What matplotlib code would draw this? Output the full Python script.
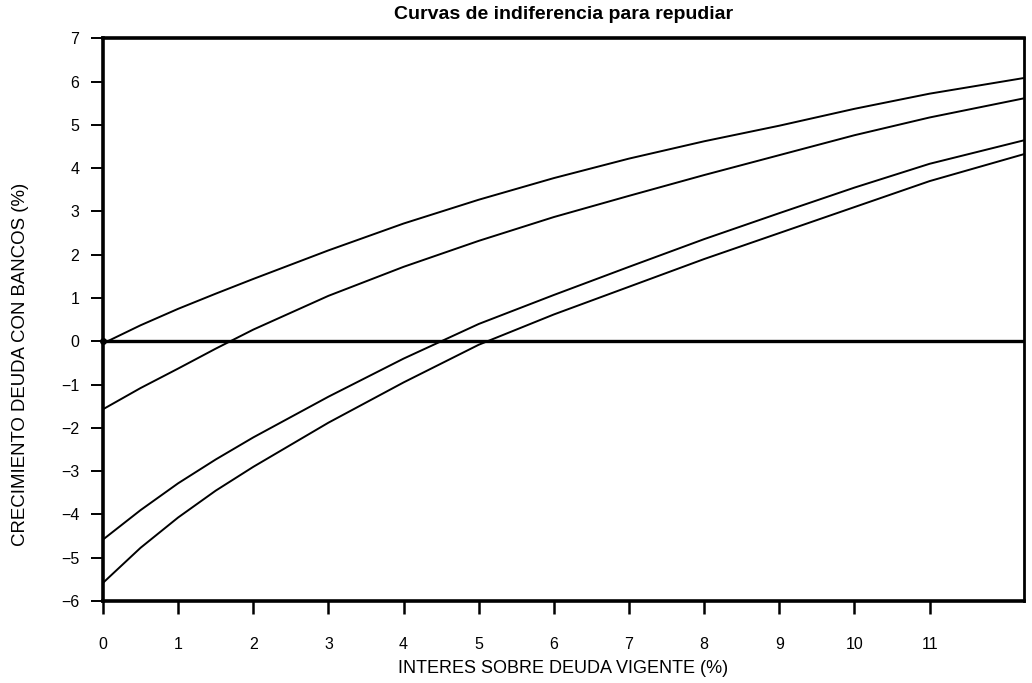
import matplotlib.pyplot as plt

plt.rcParams['font.family'] = ['Liberation Sans', 'DejaVu Sans']

# valores
interes = [0, 0.5, 1, 1.5, 2, 3, 4, 5, 6, 7, 8, 9, 10, 11, 12.25]
curva_1 = [-0.05, 0.37, 0.75, 1.1, 1.44, 2.1, 2.72, 3.27, 3.77, 4.22, 4.62, 4.98, 5.37, 5.72, 6.08]
curva_2 = [-1.57, -1.08, -0.63, -0.17, 0.27, 1.05, 1.72, 2.32, 2.87, 3.36, 3.84, 4.3, 4.76, 5.17, 5.61]
curva_3 = [-4.58, -3.9, -3.28, -2.73, -2.22, -1.28, -0.4, 0.4, 1.07, 1.72, 2.36, 2.96, 3.55, 4.1, 4.64]
curva_4 = [-5.58, -4.77, -4.07, -3.45, -2.9, -1.88, -0.95, -0.08, 0.62, 1.26, 1.9, 2.5, 3.1, 3.7, 4.32]

x_ticks = list(range(0, 12))
y_ticks = list(range(-6, 8))

fig = plt.figure(figsize=(10.32, 6.83), dpi=100)
ax = fig.add_axes([0.0998, 0.120, 0.892, 0.824])

for curva in (curva_1, curva_2, curva_3, curva_4):
    ax.plot(interes, curva, color='black', lw=1.4, solid_joinstyle='round')

ax.axhline(0, color='black', lw=2.4)
ax.plot([0], [0], 'o', color='black', ms=4, clip_on=False)

ax.set_xlim(0, 12.25)
ax.set_ylim(-6, 7)
ax.set_xticks(x_ticks)
ax.set_yticks(y_ticks)
ax.set_yticklabels([str(v).replace('-', '\u2212') for v in y_ticks])

for side in ('left', 'bottom', 'top'):
    ax.spines[side].set_linewidth(2.6)
ax.spines['right'].set_linewidth(2.0)

ax.tick_params(axis='x', direction='out', length=9, width=1.8, pad=17, labelsize=11.5)
ax.tick_params(axis='y', direction='out', length=9, width=1.4, pad=8, labelsize=11.5)

ax.set_xlabel('INTERES SOBRE DEUDA VIGENTE (%)', fontsize=13, labelpad=6)
ax.set_ylabel('CRECIMIENTO DEUDA CON BANCOS (%)', fontsize=13.4)
ax.yaxis.set_label_coords(-0.08, 0.42)
ax.set_title('Curvas de indiferencia para repudiar', fontsize=14,
             fontweight='bold', pad=14)

fig.savefig('out.png', dpi=100)
